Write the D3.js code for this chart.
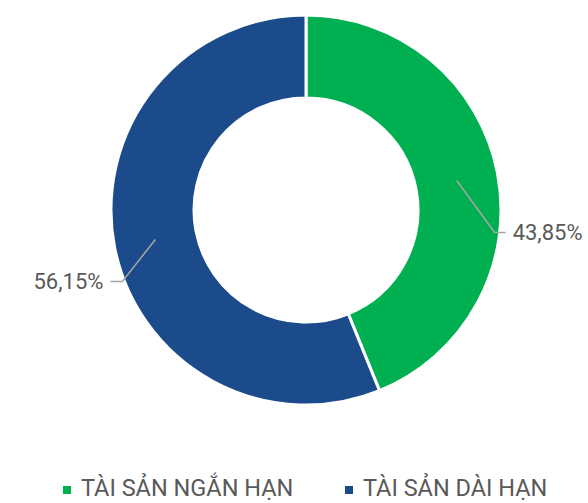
<!DOCTYPE html>
<html>
<head>
<meta charset="utf-8">
<script src="https://cdn.jsdelivr.net/npm/d3@7"></script>
<style>
  html, body { margin: 0; padding: 0; background: #fff; }
  text { font-family: Roboto, "Liberation Sans", sans-serif; fill: #595959; }
</style>
</head>
<body>
<div id="chart"></div>
<script>
var categories = ["TÀI SẢN NGẮN HẠN", "TÀI SẢN DÀI HẠN"];
var values = [43.85, 56.15];
var colors = ["#00b050", "#1c4b8b"];

var width = 588, height = 503;
var cx = 306, cy = 210;
var outerR = 195, innerR = 112;

// leader elbow offset from the arc midpoint, and which side the label goes
var leaders = [
    { dx: 38, dy: 52, tail: 11, side: 1 },
    { dx: -33, dy: 42, tail: -12, side: -1 }
];

var svg = d3.select("#chart").append("svg")
    .attr("width", width)
    .attr("height", height);

var g = svg.append("g")
    .attr("transform", "translate(" + cx + "," + cy + ")");

var pie = d3.pie().sort(null).value(function(d) { return d; });
var arcs = pie(values);

var arc = d3.arc().innerRadius(innerR).outerRadius(outerR);
var midArc = d3.arc().innerRadius((innerR + outerR) / 2).outerRadius((innerR + outerR) / 2);

g.selectAll(".slice")
    .data(arcs)
    .enter().append("path")
    .attr("class", "slice")
    .attr("d", arc)
    .attr("fill", function(d, i) { return colors[i]; })
    .attr("stroke", "#fff")
    .attr("stroke-width", 3)
    .attr("stroke-linejoin", "miter");

var fmt = function(v) { return v.toFixed(2).replace(".", ",") + "%"; };

arcs.forEach(function(d, i) {
    var p = midArc.centroid(d);
    var L = leaders[i];
    var ex = p[0] + L.dx, ey = p[1] + L.dy;
    var tx = ex + L.tail;
    g.append("polyline")
        .attr("points", [p, [ex, ey], [tx, ey]].map(function(q) { return q.join(","); }).join(" "))
        .attr("fill", "none")
        .attr("stroke", "#a6a6a6")
        .attr("stroke-width", 1.5);
    g.append("text")
        .attr("x", tx + L.side * 7)
        .attr("y", ey)
        .attr("dy", "0.35em")
        .attr("text-anchor", L.side > 0 ? "start" : "end")
        .style("font-size", "22px")
        .text(fmt(values[i]));
});

// legend
var legendX = [63, 345];
var legend = svg.selectAll(".legend")
    .data(categories)
    .enter().append("g")
    .attr("class", "legend")
    .attr("transform", function(d, i) { return "translate(" + legendX[i] + ",486)"; });

legend.append("rect")
    .attr("width", 8)
    .attr("height", 8)
    .attr("fill", function(d, i) { return colors[i]; });

legend.append("text")
    .attr("x", 18)
    .attr("y", 10)
    .style("font-size", "23.5px")
    .text(function(d) { return d; });
</script>
</body>
</html>
